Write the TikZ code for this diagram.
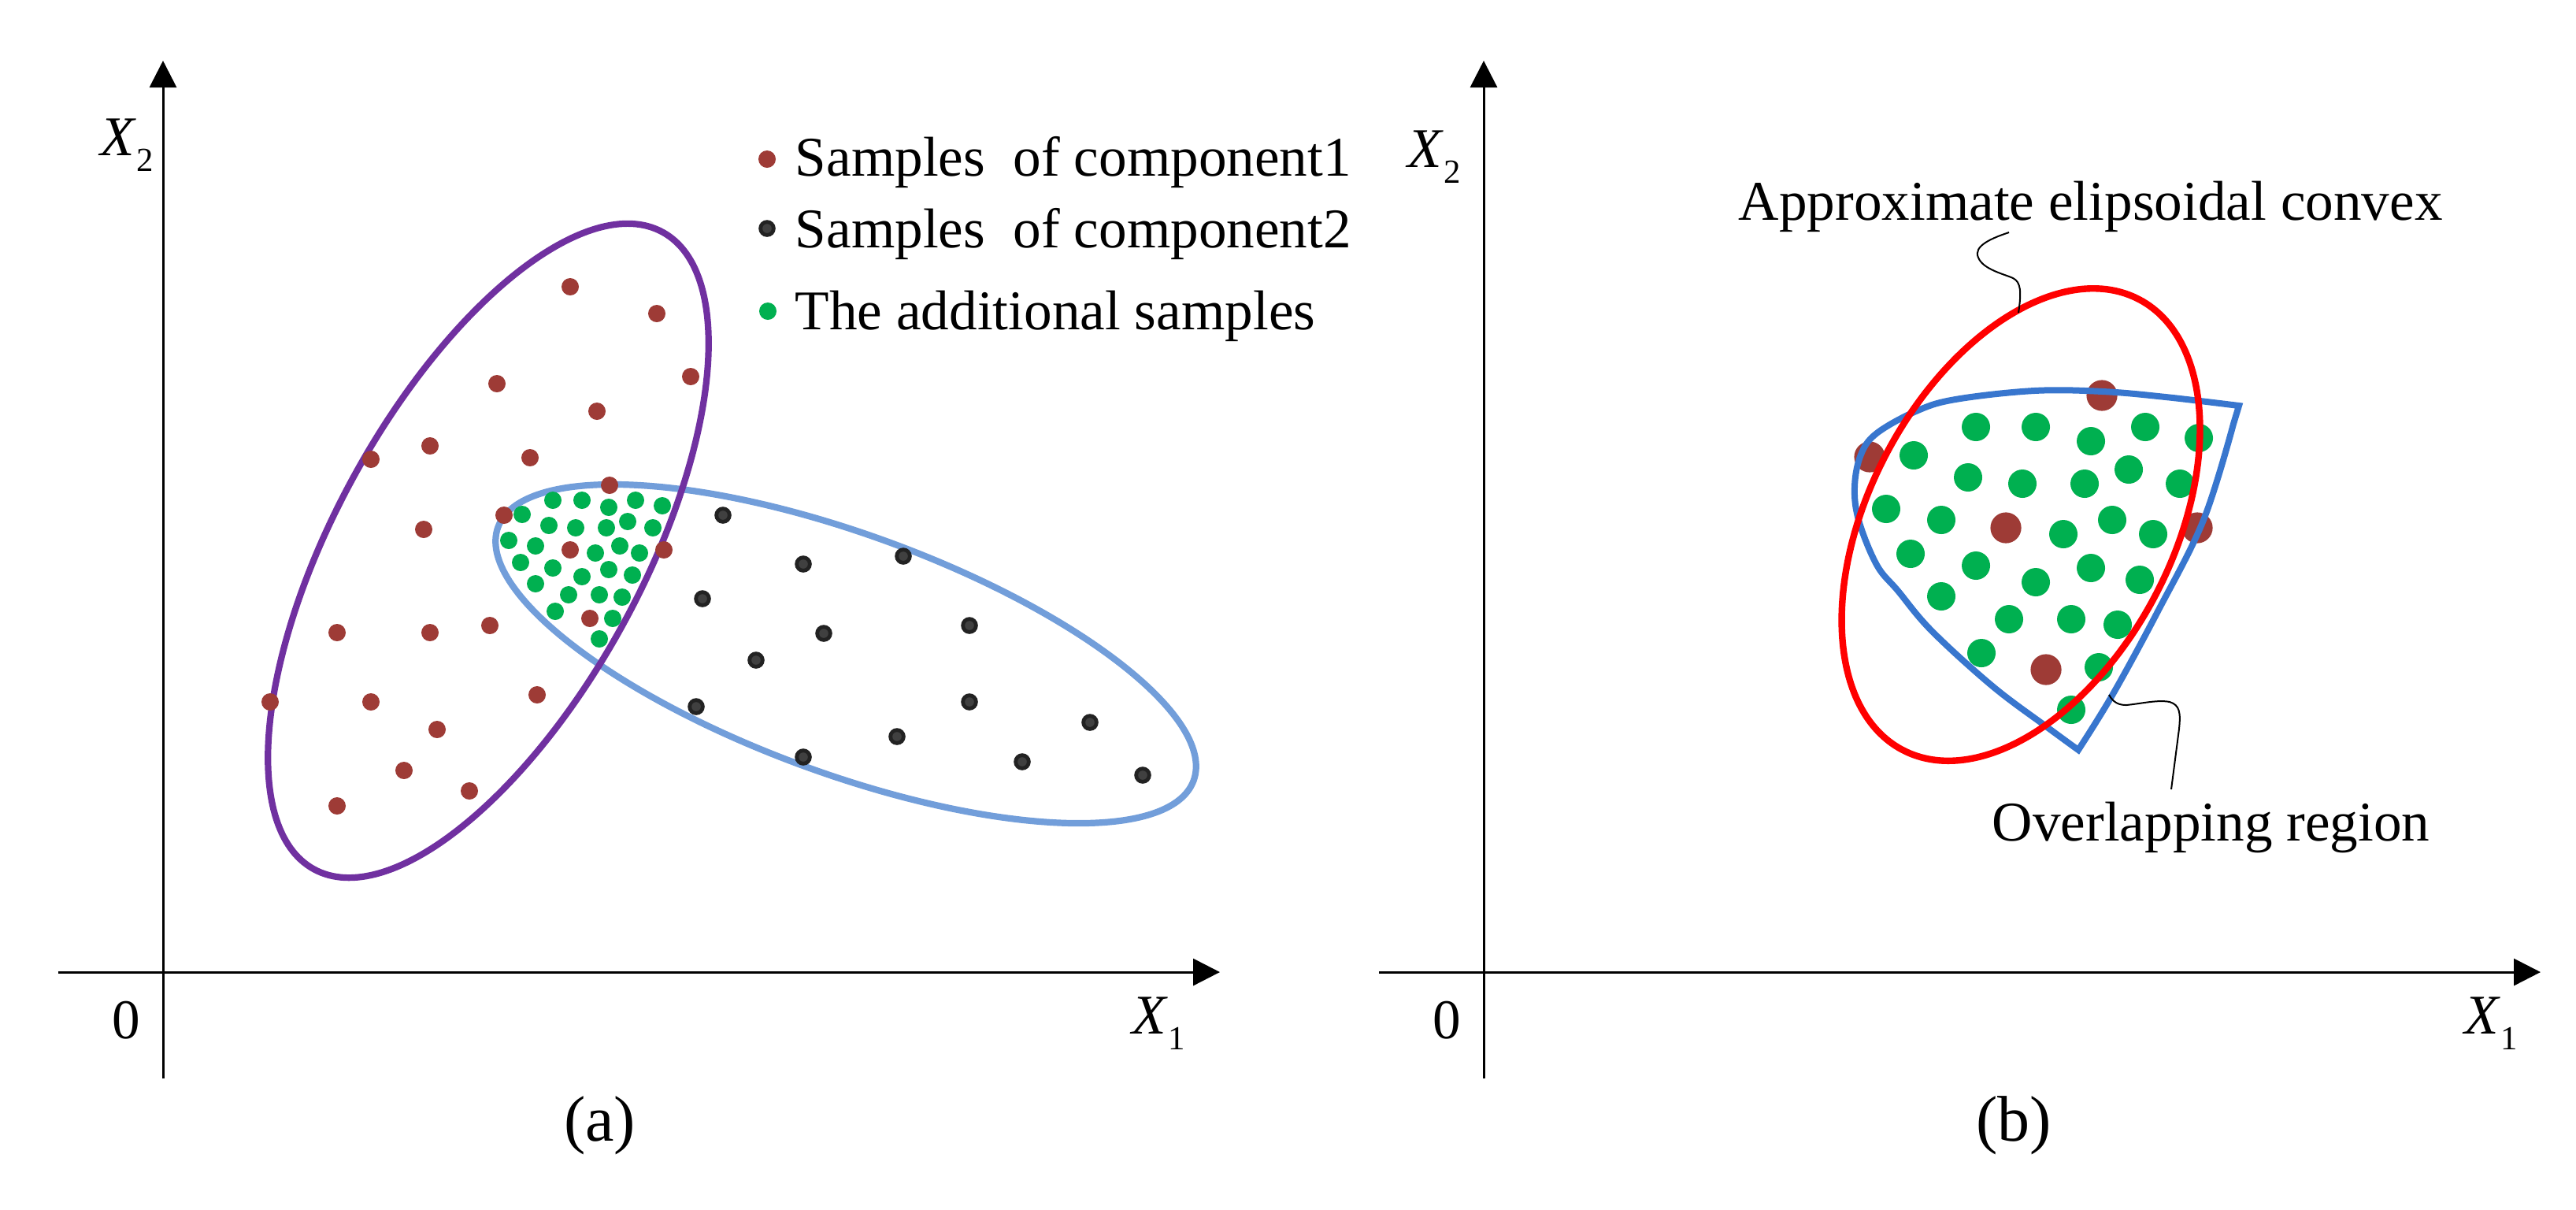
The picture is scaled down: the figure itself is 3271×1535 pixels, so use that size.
\documentclass[tikz,border=0pt]{standalone}
\usepackage{fontspec}
\setmainfont{Liberation Serif}
\usetikzlibrary{arrows.meta}
\definecolor{cpurple}{RGB}{112,48,160}
\definecolor{cblueA}{RGB}{114,158,218}
\definecolor{cblueB}{RGB}{56,118,206}
\definecolor{cred}{RGB}{255,0,0}
\definecolor{cbrown}{RGB}{158,59,54}
\definecolor{cgreen}{RGB}{0,176,80}
\definecolor{cdark}{RGB}{34,34,34}
\definecolor{cgray}{RGB}{64,64,64}
\newcommand{\axlab}[1]{\textit{X}\raisebox{-5pt}{\fontsize{10.7pt}{12pt}\selectfont #1}}
\begin{document}
\begin{tikzpicture}[x=0.25pt,y=-0.25pt,
  axisline/.style={line width=0.75pt,-{Triangle[length=8.5pt,width=8.5pt]}},
  plainline/.style={line width=0.75pt},
  lab/.style={inner sep=0pt,anchor=base west,font=\fontsize{17.8pt}{20pt}\selectfont},
  zerolab/.style={inner sep=0pt,anchor=base,font=\fontsize{17.8pt}{20pt}\selectfont},
  sublab/.style={inner sep=0pt,anchor=base,font=\fontsize{20.5pt}{24pt}\selectfont},
  leader/.style={line width=0.5pt,black},
  ellA/.style={line width=2.05pt},
]
\useasboundingbox (0,0) rectangle (3271,1535);
\fill[white] (0,0) rectangle (3271,1535);

% ---------------- panel (a) ----------------
\coordinate (ayb) at (207,1369);
\coordinate (ayt) at (207,77);
\coordinate (axl) at (74,1234);
\coordinate (axr) at (1549,1234);
\draw[axisline] (axl) -- (axr);
\draw[axisline] (ayb) -- (ayt);
\node[lab] (ax2) at (127,197) {\axlab{2}};
\node[lab] (ax1) at (1437,1312) {\axlab{1}};
\node[zerolab] (azero) at (160.5,1318) {0};
\node[sublab] (acap) at (761.5,1448) {(a)};

% ellipses
\draw[cblueA,ellA,rotate around={-20:(1074,830)}] (1074,830) ellipse[x radius=117.5pt,y radius=38pt];
\draw[cpurple,ellA,rotate around={61.3:(620,699)}] (620,699) ellipse[x radius=115.25pt,y radius=48.75pt];

% red samples
\foreach \x/\y in {724/364,834/398,877/478,631/487,758/522,546/566,471/583,673/581,774/616,538/672,640/654,724/698,843/698,428/803,546/803,622/794,749/785,343/891,471/891,682/882,555/926,513/978,596/1004,428/1023}
  \fill[cbrown] (\x,\y) circle[radius=2.75pt];
% black samples
\foreach \x/\y in {918/654,1020/716,1147/706,892/760,1046/804,1231/794,960/838,884/897,1231/891,1139/935,1020/961,1298/967,1384/917,1451/984}
  {\fill[cdark] (\x,\y) circle[radius=2.7pt];
   \fill[cgray] (\x,\y) circle[radius=1.45pt];}
% green samples
\foreach \x/\y in {702/635,739/635,773/644,807/635,841/642,663/653,697/667,731/670,770/670,797/662,829/670,646/686,680/693,756/702,787/693,812/702,661/714,702/721,739/732,773/723,803/730,680/741,722/755,761/755,790/758,705/776,778/785,761/811}
  \fill[cgreen] (\x,\y) circle[radius=2.75pt];

% legend
\fill[cbrown] (974,202) circle[radius=2.75pt];
\fill[cdark] (974,290) circle[radius=2.7pt];
\fill[cgray] (974,290) circle[radius=1.45pt];
\fill[cgreen] (975,395) circle[radius=2.75pt];
\node[lab] (leg1) at (1009,223) {Samples\ \ of component1};
\node[lab] (leg2) at (1009,314) {Samples\ \ of component2};
\node[lab] (leg3) at (1009,418) {The additional samples};

% ---------------- panel (b) ----------------
\coordinate (byb) at (1884,1369);
\coordinate (byt) at (1884,77);
\coordinate (bxl) at (1751,1234);
\coordinate (bxr) at (3226,1234);
\draw[axisline] (bxl) -- (bxr);
\draw[axisline] (byb) -- (byt);
\node[lab] (bx2) at (1787,212) {\axlab{2}};
\node[lab] (bx1) at (3129,1312) {\axlab{1}};
\node[zerolab] (bzero) at (1837.5,1318) {0};
\node[sublab] (bcap) at (2557,1448) {(b)};

% dots b
\foreach \x/\y in {2509/542,2585/542,2655/560,2724/542,2792/556,2430/578,2499/606,2568/614,2647/614,2703/596,2768/614,2395/646,2465/660,2620/678,2682/660,2734/678,2426/703,2509/718,2585/739,2655/721,2717/736,2465/757,2551/786,2630/786,2689/793,2516/829,2665/847,2630/901}
  \fill[cgreen] (\x,\y) circle[radius=4.5pt];
\foreach \x/\y in {2374/580,2669/502,2547/670,2790/670,2598/850}
  \fill[cbrown] (\x,\y) circle[radius=4.9pt];

% overlapping region
\draw[cblueB,line width=2pt,line join=miter]
  plot[smooth,tension=0.6] coordinates {(2843,515) (2750,504) (2670,497) (2583,496) (2483,507) (2433,522) (2383,550) (2363,577) (2355,617) (2360,660) (2383,717) (2410,750) (2453,801) (2530,871) (2598,922) (2639,952)}
  -- plot[smooth,tension=0.6] coordinates {(2639,952) (2683,881) (2740,776) (2798,660) (2836,538)}
  -- cycle;
% approximate ellipse
\draw[cred,line width=2.1pt,rotate around={62.3:(2566,666)}] (2566,666) ellipse[x radius=80.75pt,y radius=48.25pt];

% annotations
\node[lab] (tapx) at (2207,279) {Approximate elipsoidal convex};
\node[lab] (tovl) at (2529,1067) {Overlapping region};
\coordinate (la0) at (2551,295);
\coordinate (la1) at (2563,397);
\draw[leader] (la0) .. controls (2530,302) and (2505,312) .. (2512,327) .. controls (2518,342) and (2545,348) .. (2556,353) .. controls (2566,358) and (2567,370) .. (la1);
\coordinate (lo0) at (2678,882);
\coordinate (lo1) at (2757,1002);
\draw[leader] (lo0) .. controls (2684,893) and (2692,895) .. (2700,895) .. controls (2720,893) and (2740,888) .. (2755,891) .. controls (2768,895) and (2769,905) .. (2767,925) -- (lo1);
\end{tikzpicture}
\end{document}
